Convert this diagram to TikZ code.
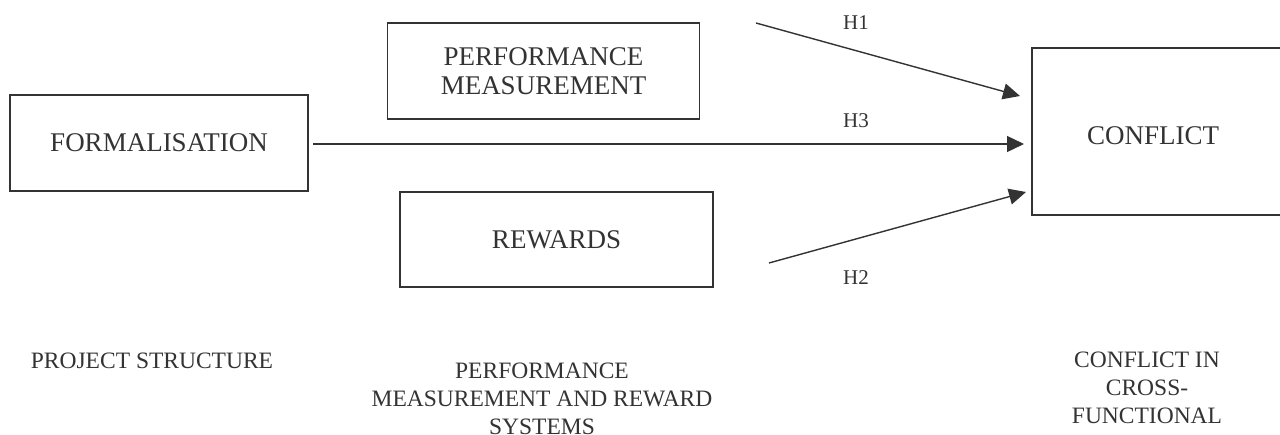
\documentclass[tikz,border=0pt]{standalone}
\usepackage{fontspec}
\setmainfont{Liberation Serif}
\usetikzlibrary{arrows.meta,calc}
\definecolor{ink}{HTML}{333333}
\tikzset{
  box/.style={draw=ink, line width=1.5pt, text=ink, align=center, inner sep=0pt,
    font=\fontsize{27}{29}\selectfont},
  link/.style={draw=ink, line width=1.4pt, -{Triangle[length=17pt,width=16pt]}},
  hlab/.style={text=ink, font=\fontsize{21}{24}\selectfont},
  captxt/.style={text=ink, align=center, inner sep=0pt, anchor=north, font=\fontsize{23.5}{28}\selectfont},
}
\begin{document}
\begin{tikzpicture}[x=1pt,y=-1pt]
\clip (0,0) rectangle (1280,434);
\fill[white] (0,0) rectangle (1280,434);
% boxes
\node[box, minimum width=298pt, minimum height=96pt] (form) at (159,143) {FORMALISATION};
\node[box, minimum width=312pt, minimum height=96pt] (perf) at (543.5,71) {PERFORMANCE\\MEASUREMENT};
\node[box, minimum width=313pt, minimum height=95pt] (rew) at (556.5,239.5) {REWARDS};
\node[box, minimum width=260pt, minimum height=167pt, anchor=north west] (conf) at (1031,47) {};
\node[text=ink, font=\fontsize{27}{29}\selectfont] (conftext) at (1153,136) {CONFLICT};
% connector ends
\coordinate (h1s) at (756,23);
\coordinate (h1e) at (1020,96);
\coordinate (h2s) at (769,263);
\coordinate (h2e) at (1026,192);
\coordinate (h3e) at (1024,144);
\coordinate (h3s) at (313,144);
\draw[link] (h1s) -- (h1e);
\draw[link] (h3s) -- (h3e);
\draw[link] (h2s) -- (h2e);
% labels
\node[hlab] (lh1) at (856,23) {H1};
\node[hlab] (lh3) at (856,121) {H3};
\node[hlab] (lh2) at (856,278) {H2};
% bottom captions
\node[captxt] (c1) at (152,352.5) {PROJECT STRUCTURE};
\node[captxt] (c2) at (542,363) {PERFORMANCE\\MEASUREMENT AND REWARD\\SYSTEMS};
\node[captxt] (c3) at (1147,352) {CONFLICT IN\\CROSS-\\FUNCTIONAL};
\end{tikzpicture}
\end{document}
